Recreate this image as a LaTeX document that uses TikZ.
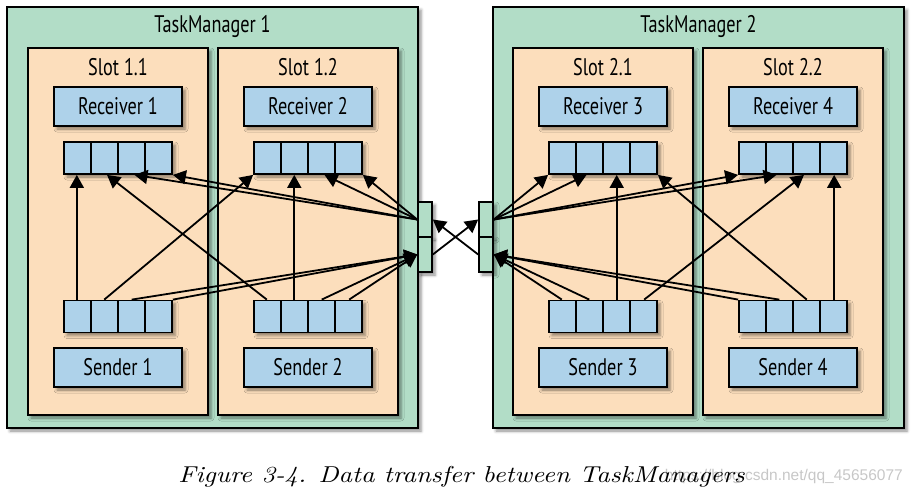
\documentclass[tikz,border=0pt]{standalone}
\usepackage{fontspec}
\newfontfamily\tmfont[FakeStretch=0.76]{PT Sans}
\newfontfamily\wmfont{Liberation Sans}
\newfontfamily\capfont[FakeStretch=1.15]{lmroman10-italic.otf}
\usetikzlibrary{arrows.meta, calc, shadows.blur}

\definecolor{tmgreen}{RGB}{178,221,199}
\definecolor{slotpeach}{RGB}{252,222,188}
\definecolor{boxblue}{RGB}{174,210,234}

\begin{document}
\begin{tikzpicture}[
    x=1pt, y=-1pt,
    font=\tmfont\fontsize{24}{28}\selectfont,
    shadowed/.style={blur shadow={shadow xshift=3pt, shadow yshift=-3pt,
        shadow blur radius=3pt, shadow opacity=45}},
    manager/.style={draw, line width=1.8pt, fill=tmgreen, shadowed,
        minimum width=411pt, minimum height=421pt},
    slotbox/.style={draw, line width=1.8pt, fill=slotpeach, shadowed,
        minimum width=180pt, minimum height=367pt},
    blk/.style={draw, line width=1.8pt, fill=boxblue, shadowed,
        minimum width=128pt, minimum height=39pt, inner sep=0pt},
    bufbox/.style={draw, line width=1.8pt, fill=boxblue, shadowed,
        minimum width=108pt, minimum height=32pt, inner sep=0pt,
        path picture={
          \foreach \k in {1,2,3}
            \draw[line width=1.8pt]
              ($(path picture bounding box.south west)!\k/4!(path picture bounding box.south east)$) --
              ($(path picture bounding box.north west)!\k/4!(path picture bounding box.north east)$);
        }},
    portbox/.style={draw, line width=1.6pt, fill=tmgreen, shadowed,
        minimum width=14pt, minimum height=35pt, inner sep=0pt},
    heading/.style={anchor=base, inner sep=0pt},
    arr/.style={-{Triangle[length=13pt, width=14pt]}, line width=1.8pt}
  ]
    \useasboundingbox (0,0) rectangle (913,495);

    % task managers and slots
    \node[manager] (tm1) at (212.5,217.5) {};
    \node[manager] (tm2) at (698.5,217.5) {};
    \node[heading] (tm1title) at (212.5,33) {TaskManager 1};
    \node[heading] (tm2title) at (698.5,33) {TaskManager 2};

    \node[slotbox] (slot11) at (118,231.5) {};
    \node[slotbox] (slot12) at (308,231.5) {};
    \node[slotbox] (slot21) at (603,231.5) {};
    \node[slotbox] (slot22) at (793,231.5) {};
    \node[heading] (slot11title) at (118,75) {Slot 1.1};
    \node[heading] (slot12title) at (308,75) {Slot 1.2};
    \node[heading] (slot21title) at (603,75) {Slot 2.1};
    \node[heading] (slot22title) at (793,75) {Slot 2.2};

    % receivers, senders and their buffers
    \node[blk] (rcv1) at (118,106.5) {Receiver 1};
    \node[blk] (rcv2) at (308,106.5) {Receiver 2};
    \node[blk] (rcv3) at (603,106.5) {Receiver 3};
    \node[blk] (rcv4) at (793,106.5) {Receiver 4};

    \node[bufbox] (in11) at (118,158) {};
    \node[bufbox] (in12) at (308,158) {};
    \node[bufbox] (in21) at (603,158) {};
    \node[bufbox] (in22) at (793,158) {};

    \node[bufbox] (out11) at (118,316.5) {};
    \node[bufbox] (out12) at (308,316.5) {};
    \node[bufbox] (out21) at (603,316.5) {};
    \node[bufbox] (out22) at (793,316.5) {};

    \node[blk] (snd1) at (118,367.5) {Sender 1};
    \node[blk] (snd2) at (308,367.5) {Sender 2};
    \node[blk] (snd3) at (603,367.5) {Sender 3};
    \node[blk] (snd4) at (793,367.5) {Sender 4};

    % network ports
    \node[portbox] (p1in)  at (425,219.5) {};
    \node[portbox] (p1out) at (425,254.5) {};
    \node[portbox] (p2in)  at (486,219.5) {};
    \node[portbox] (p2out) at (486,254.5) {};

    % TaskManager 1, local
    \draw[arr] ($(out11.north west)!.125!(out11.north east)$) -- ($(in11.south west)!.125!(in11.south east)$);
    \draw[arr] ($(out12.north west)!.125!(out12.north east)$) -- ($(in11.south west)!.4!(in11.south east)$);
    \draw[arr] ($(out11.north west)!.375!(out11.north east)$) -- (in12.south west);
    \draw[arr] ($(out12.north west)!.375!(out12.north east)$) -- ($(in12.south west)!.375!(in12.south east)$);
    % TaskManager 1, remote
    \draw[arr] ($(out11.north west)!.625!(out11.north east)$) -- (p1out.west);
    \draw[arr] (out11.north east) -- (p1out.west);
    \draw[arr] ($(out12.north west)!.625!(out12.north east)$) -- (p1out.west);
    \draw[arr] ($(out12.north west)!.875!(out12.north east)$) -- (p1out.west);
    \draw[arr] (p1in.west) -- ($(in11.south west)!.65!(in11.south east)$);
    \draw[arr] (p1in.west) -- (in11.south east);
    \draw[arr] (p1in.west) -- ($(in12.south west)!.65!(in12.south east)$);
    \draw[arr] (p1in.west) -- (in12.south east);

    % TaskManager 2, local
    \draw[arr] ($(out22.north west)!.875!(out22.north east)$) -- ($(in22.south west)!.875!(in22.south east)$);
    \draw[arr] ($(out21.north west)!.875!(out21.north east)$) -- ($(in22.south west)!.6!(in22.south east)$);
    \draw[arr] ($(out22.north west)!.625!(out22.north east)$) -- (in21.south east);
    \draw[arr] ($(out21.north west)!.625!(out21.north east)$) -- ($(in21.south west)!.625!(in21.south east)$);
    % TaskManager 2, remote
    \draw[arr] ($(out22.north west)!.375!(out22.north east)$) -- (p2out.east);
    \draw[arr] (out22.north west) -- (p2out.east);
    \draw[arr] ($(out21.north west)!.375!(out21.north east)$) -- (p2out.east);
    \draw[arr] ($(out21.north west)!.125!(out21.north east)$) -- (p2out.east);
    \draw[arr] (p2in.east) -- ($(in22.south west)!.35!(in22.south east)$);
    \draw[arr] (p2in.east) -- (in22.south west);
    \draw[arr] (p2in.east) -- ($(in21.south west)!.35!(in21.south east)$);
    \draw[arr] (p2in.east) -- (in21.south west);

    % between the TaskManagers
    \draw[arr] (p1out.east) -- (p2in.west);
    \draw[arr] (p2out.west) -- (p1in.east);

    % caption
    \node[anchor=base east, inner sep=0pt, text=black!22, font=\wmfont\fontsize{15.5}{18}\selectfont]
      (watermark) at (903,480) {https://blog.csdn.net/qq\_45656077};
    \node[anchor=base, inner sep=0pt, font=\capfont\fontsize{23}{27}\selectfont]
      (caption) at (461.5,482) {Figure 3-4. Data transfer between TaskManagers};
  \end{tikzpicture}
\end{document}
